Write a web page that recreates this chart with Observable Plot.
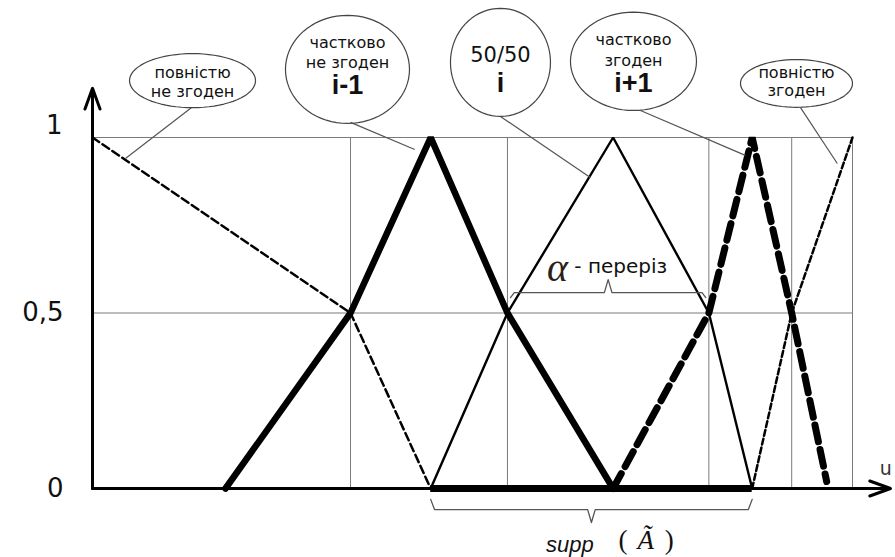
<!DOCTYPE html>
<html><head><meta charset="utf-8">
<script src="https://cdn.jsdelivr.net/npm/d3@7"></script>
<script src="https://cdn.jsdelivr.net/npm/@observablehq/plot@0.6"></script>
<style>body{margin:0;background:#fff;}</style>
</head><body><div id="chart"></div>
<script>
// ---- membership functions (u in arbitrary units, mu in [0,1]) ----
const fullDisagreeU = [0, 33.95, 44.5];
const fullDisagreeMu = [1, 0.5, 0];
const partDisagreeU = [17.5, 33.95, 44.5, 54.6, 68.5];
const partDisagreeMu = [0, 0.5, 1, 0.5, 0];
const neutralU = [44.5, 54.6, 68.5, 81.1, 86.8];
const neutralMu = [0, 0.5, 1, 0.5, 0];
const partAgreeU = [68.5, 81.1, 86.8, 92.0, 96.6];
const partAgreeMu = [0, 0.5, 1, 0.5, 0.02];
const fullAgreeU = [86.8, 92.0, 100];
const fullAgreeMu = [0, 0.5, 1];

const gridU = [33.95, 54.6, 81.1, 92.0, 100];
const gridMu = [0.5, 1];
const yTicks = [0, 0.5, 1];
const yTickLabels = ["0", "0,5", "1"];
const supportRange = [44.5, 86.8];
const alphaRange = [55.0, 80.7];
const alphaLevel = 0.558;

// callouts: ellipse centre/radii (data units), lines of text
const calloutCx = [13.16, 33.55, 53.68, 71.18, 92.63];
const calloutCy = [1.162, 1.194, 1.214, 1.217, 1.154];
const calloutRx = [8.29, 8.16, 6.58, 8.29, 7.37];
const calloutRy = [0.077, 0.154, 0.154, 0.140, 0.068];
const calloutSmall = [["повністю", "не згоден"], ["частково", "не згоден"], [], ["частково", "згоден"], ["повністю", "згоден"]];
const calloutSmallY = [[1.185, 1.131], [1.271, 1.214], [], [1.279, 1.219], [1.185, 1.134]];
const calloutBig = ["", "i-1", "i", "i+1", ""];
const calloutBigY = [0, 1.148, 1.154, 1.154, 0];
const calloutMid = ["50/50"];
const leaderFrom = [[13.0, 1.085], [33.95, 1.043], [53.68, 1.060], [72.1, 1.077], [93.16, 1.085]];
const leaderTo = [[4.34, 0.940], [42.4, 0.966], [65.5, 0.886], [85.9, 0.949], [98.0, 0.926]];

const zip = (u, m) => u.map((d, i) => ({u: d, mu: m[i]}));

// ellipse outlines
const ellipses = [];
calloutCx.forEach((cx, k) => {
  for (let j = 0; j < 72; j++) {
    const t = (j / 72) * 2 * Math.PI;
    ellipses.push({k, u: cx + calloutRx[k] * Math.cos(t), mu: calloutCy[k] + calloutRy[k] * Math.sin(t)});
  }
});
const smallRows = [];
calloutSmall.forEach((lines, k) => lines.forEach((t, j) => smallRows.push({u: calloutCx[k], mu: calloutSmallY[k][j], t})));
const bigRows = calloutBig.map((t, k) => ({u: calloutCx[k], mu: calloutBigY[k], t})).filter(d => d.t);
const leaders = leaderFrom.map((f, k) => ({x1: f[0], y1: f[1], x2: leaderTo[k][0], y2: leaderTo[k][1]}));

// braces
function brace(x1, x2, yEnd, yLine, yTip) {
  const m = (x1 + x2) / 2, d = 0.5;
  return [[x1, yEnd], [x1 + d, yLine], [m - d, yLine], [m, yTip], [m + d, yLine], [x2 - d, yLine], [x2, yEnd]].map(([u, mu]) => ({u, mu}));
}
const alphaBrace = brace(alphaRange[0], alphaRange[1], alphaLevel - 0.014, alphaLevel, alphaLevel + 0.037);
const suppBrace = brace(supportRange[0], supportRange[1], -0.031, -0.060, -0.097);

const grey = "#7a7a7a";
const plot = Plot.plot({
  width: 895, height: 557,
  marginLeft: 92, marginRight: 43, marginTop: 137, marginBottom: 69,
  x: {domain: [0, 100], axis: null},
  y: {domain: [0, 1], axis: null},
  style: {background: "#fff", overflow: "visible"},
  marks: [
    // grid
    Plot.ruleX(gridU, {y1: 0, y2: 1, stroke: grey, strokeWidth: 1}),
    Plot.ruleY(gridMu, {x1: 0, x2: 100, stroke: grey, strokeWidth: 1}),
    // axes
    Plot.arrow([{x1: 0, y1: 0, x2: 0, y2: 1.14}], {x1: "x1", y1: "y1", x2: "x2", y2: "y2", stroke: "#000", strokeWidth: 3, headLength: 11, headAngle: 40}),
    Plot.arrow([{x1: 0, y1: 0, x2: 105, y2: 0}], {x1: "x1", y1: "y1", x2: "x2", y2: "y2", stroke: "#000", strokeWidth: 3, headLength: 11, headAngle: 40}),
    // support bar
    Plot.ruleY([0], {x1: supportRange[0], x2: supportRange[1], stroke: "#000", strokeWidth: 7}),
    // membership functions
    Plot.line(zip(fullDisagreeU, fullDisagreeMu), {x: "u", y: "mu", stroke: "#000", strokeWidth: 2.5, strokeDasharray: "8,4"}),
    Plot.line(zip(partDisagreeU, partDisagreeMu), {x: "u", y: "mu", stroke: "#000", strokeWidth: 6.5, strokeLinejoin: "miter"}),
    Plot.line(zip(neutralU, neutralMu), {x: "u", y: "mu", stroke: "#000", strokeWidth: 2.4, strokeLinejoin: "miter"}),
    Plot.line(zip(partAgreeU, partAgreeMu), {x: "u", y: "mu", stroke: "#000", strokeWidth: 7, strokeDasharray: "17,8", strokeLinejoin: "miter"}),
    Plot.line(zip(fullAgreeU, fullAgreeMu), {x: "u", y: "mu", stroke: "#000", strokeWidth: 2.5, strokeDasharray: "6,3"}),
    // braces
    Plot.line(alphaBrace, {x: "u", y: "mu", stroke: "#555", strokeWidth: 1.3}),
    Plot.line(suppBrace, {x: "u", y: "mu", stroke: "#555", strokeWidth: 1.3}),
    // callouts
    Plot.link(leaders, {x1: "x1", y1: "y1", x2: "x2", y2: "y2", stroke: "#555", strokeWidth: 1.2}),
    Plot.line(ellipses, {x: "u", y: "mu", z: "k", curve: "linear-closed", stroke: "#444", strokeWidth: 1.2, fill: "none"}),
    Plot.text(smallRows, {x: "u", y: "mu", text: "t", fontFamily: "DejaVu Sans", fontSize: 16, fill: "#111"}),
    Plot.text(bigRows, {x: "u", y: "mu", text: "t", fontFamily: "Liberation Sans", fontWeight: "bold", fontSize: 27, fill: "#111"}),
    Plot.text(calloutMid, {x: calloutCx[2], y: 1.234, text: d => d, fontFamily: "DejaVu Sans", fontSize: 21, fill: "#111"}),
    // y tick labels
    Plot.text(yTicks.slice(0, 2), {x: 0, y: d => d, text: (d, i) => yTickLabels[i], dx: -29, textAnchor: "end", fontFamily: "DejaVu Sans", fontSize: 26, fill: "#111"}),
    Plot.text(yTicks.slice(2), {x: 0, y: d => d, text: () => yTickLabels[2], dx: -30, dy: -12, textAnchor: "end", fontFamily: "DejaVu Sans", fontSize: 26, fill: "#111"}),
    // axis name
    Plot.text(["u"], {x: 103.6, y: 0.057, text: d => d, textAnchor: "start", fontFamily: "DejaVu Sans", fontSize: 19, fill: "#333"}),
    // alpha-cut label
    Plot.text(["α"], {x: 61.2, y: 0.627, text: d => d, fontFamily: "Liberation Serif", fontStyle: "italic", fontSize: 40, fill: "#2a2218"}),
    Plot.text(["- переріз"], {x: 63.4, y: 0.632, text: d => d, textAnchor: "start", fontFamily: "DejaVu Sans", fontSize: 20, fill: "#111"}),
    // support label
    Plot.text(["supp"], {x: 62.8, y: -0.160, text: d => d, fontFamily: "Liberation Sans", fontStyle: "italic", fontSize: 22, fill: "#111"}),
    Plot.text(["(", ")"], {x: (d, i) => [69.8, 75.9][i], y: -0.148, text: d => d, fontFamily: "Liberation Serif", fontSize: 27, fill: "#111"}),
    Plot.text(["Ã"], {x: 72.8, y: -0.148, text: d => d, fontFamily: "Liberation Serif", fontStyle: "italic", fontSize: 27, fill: "#111"})
  ]
});
document.getElementById("chart").appendChild(plot);
</script>
</body></html>
